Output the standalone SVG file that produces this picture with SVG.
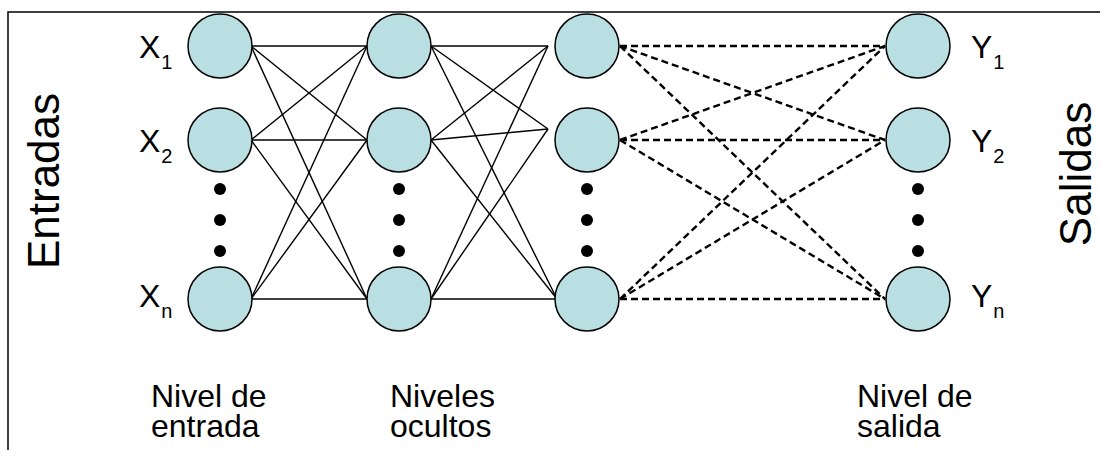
<svg xmlns="http://www.w3.org/2000/svg" width="1100" height="450" viewBox="0 0 1100 450">
  <style>
    .frame { fill: none; stroke: #000; stroke-width: 1.5; }
    .neuron { fill: #b9dfe3; stroke: #000; stroke-width: 1.5; }
    .dot { fill: #000; }
    .w { stroke: #000; stroke-width: 1.4; fill: none; }
    .wd { stroke: #000; stroke-width: 2.4; stroke-dasharray: 7 4; fill: none; }
    text { font-family: "Liberation Sans", Arial, sans-serif; fill: #000; }
    .lbl { font-size: 32px; }
    .sub { font-size: 20px; }
    .side { font-size: 44px; }
    .cap { font-size: 32px; }
  </style>

  <!-- frame -->
  <path class="frame" d="M8,450 V12 H1100"/>

  <!-- connectors -->
  <g id="connectors">
    <!-- input level to first hidden level -->
    <g id="in-hidden">
      <line class="w" x1="251" y1="46" x2="367" y2="46"/>
      <line class="w" x1="251" y1="46" x2="367" y2="140"/>
      <line class="w" x1="251" y1="46" x2="367" y2="299"/>
      <line class="w" x1="251" y1="140" x2="367" y2="46"/>
      <line class="w" x1="251" y1="140" x2="367" y2="140"/>
      <line class="w" x1="251" y1="140" x2="367" y2="299"/>
      <line class="w" x1="251" y1="299" x2="367" y2="46"/>
      <line class="w" x1="251" y1="299" x2="367" y2="140"/>
      <line class="w" x1="251" y1="299" x2="367" y2="299"/>
    </g>
    <!-- first hidden level to second hidden level -->
    <g id="hidden-hidden">
      <line class="w" x1="431" y1="46" x2="548" y2="46"/>
      <line class="w" x1="431" y1="46" x2="548" y2="129"/>
      <line class="w" x1="431" y1="46" x2="557" y2="299"/>
      <line class="w" x1="431" y1="140" x2="548" y2="46"/>
      <line class="w" x1="431" y1="140" x2="548" y2="129"/>
      <line class="w" x1="431" y1="140" x2="557" y2="299"/>
      <line class="w" x1="431" y1="299" x2="548" y2="46"/>
      <line class="w" x1="431" y1="299" x2="548" y2="129"/>
      <line class="w" x1="431" y1="299" x2="557" y2="299"/>
    </g>
    <!-- last hidden level to output level -->
    <g id="hidden-out">
      <line class="wd" x1="620" y1="46" x2="885" y2="46"/>
      <line class="wd" x1="620" y1="46" x2="885" y2="140"/>
      <line class="wd" x1="620" y1="46" x2="885" y2="299"/>
      <line class="wd" x1="620" y1="140" x2="885" y2="46"/>
      <line class="wd" x1="620" y1="140" x2="885" y2="140"/>
      <line class="wd" x1="620" y1="140" x2="885" y2="299"/>
      <line class="wd" x1="620" y1="299" x2="885" y2="46"/>
      <line class="wd" x1="620" y1="299" x2="885" y2="140"/>
      <line class="wd" x1="620" y1="299" x2="885" y2="299"/>
    </g>
  </g>

  <!-- input level -->
  <g id="in-1"><circle class="neuron" cx="220" cy="46" r="32"/></g>
  <g id="in-2"><circle class="neuron" cx="220" cy="140" r="32"/></g>
  <g id="in-n"><circle class="neuron" cx="220" cy="299" r="32"/></g>
  <g id="in-dots">
    <circle class="dot" cx="220" cy="189" r="6"/>
    <circle class="dot" cx="220" cy="220" r="6"/>
    <circle class="dot" cx="220" cy="251" r="6"/>
  </g>

  <!-- hidden level A -->
  <g id="ha-1"><circle class="neuron" cx="399" cy="46" r="32"/></g>
  <g id="ha-2"><circle class="neuron" cx="399" cy="140" r="32"/></g>
  <g id="ha-n"><circle class="neuron" cx="399" cy="299" r="32"/></g>
  <g id="ha-dots">
    <circle class="dot" cx="399" cy="189" r="6"/>
    <circle class="dot" cx="399" cy="220" r="6"/>
    <circle class="dot" cx="399" cy="251" r="6"/>
  </g>

  <!-- hidden level B -->
  <g id="hb-1"><circle class="neuron" cx="587" cy="46" r="32"/></g>
  <g id="hb-2"><circle class="neuron" cx="587" cy="140" r="32"/></g>
  <g id="hb-n"><circle class="neuron" cx="587" cy="299" r="32"/></g>
  <g id="hb-dots">
    <circle class="dot" cx="587" cy="189" r="6"/>
    <circle class="dot" cx="587" cy="220" r="6"/>
    <circle class="dot" cx="587" cy="251" r="6"/>
  </g>

  <!-- output level -->
  <g id="out-1"><circle class="neuron" cx="918" cy="46" r="32"/></g>
  <g id="out-2"><circle class="neuron" cx="918" cy="140" r="32"/></g>
  <g id="out-n"><circle class="neuron" cx="918" cy="299" r="32"/></g>
  <g id="out-dots">
    <circle class="dot" cx="918" cy="189" r="6"/>
    <circle class="dot" cx="918" cy="220" r="6"/>
    <circle class="dot" cx="918" cy="251" r="6"/>
  </g>

  <!-- input labels -->
  <g id="x-labels">
    <text class="lbl" x="139" y="58">X<tspan class="sub" dx="1" dy="11">1</tspan></text>
    <text class="lbl" x="139" y="152">X<tspan class="sub" dx="1" dy="11">2</tspan></text>
    <text class="lbl" x="139" y="307">X<tspan class="sub" dx="1" dy="11">n</tspan></text>
  </g>

  <!-- output labels -->
  <g id="y-labels">
    <text class="lbl" x="971" y="58">Y<tspan class="sub" dx="1" dy="11">1</tspan></text>
    <text class="lbl" x="971" y="152">Y<tspan class="sub" dx="1" dy="11">2</tspan></text>
    <text class="lbl" x="971" y="307">Y<tspan class="sub" dx="1" dy="11">n</tspan></text>
  </g>

  <!-- side titles -->
  <text class="side" text-anchor="middle" transform="translate(59,181) rotate(-90)">Entradas</text>
  <text class="side" text-anchor="middle" transform="translate(1091,174) rotate(-90)">Salidas</text>

  <!-- level captions -->
  <g id="captions">
    <text class="cap" x="151" y="407">Nivel de</text>
    <text class="cap" x="151" y="437">entrada</text>
    <text class="cap" x="390" y="407">Niveles</text>
    <text class="cap" x="390" y="437">ocultos</text>
    <text class="cap" x="857" y="407">Nivel de</text>
    <text class="cap" x="857" y="437">salida</text>
  </g>
</svg>
